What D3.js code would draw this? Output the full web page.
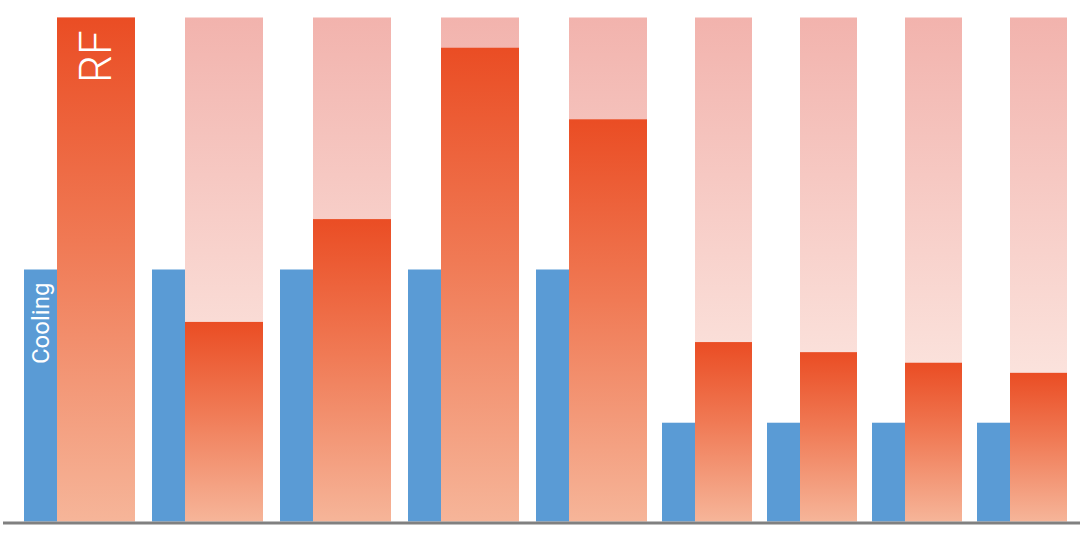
<!DOCTYPE html>
<html lang="en">
<head>
    <meta charset="UTF-8">
    <title>Cooling vs RF</title>
    <script src="https://cdn.jsdelivr.net/npm/d3@7"></script>
    <style>
        body { margin: 0; background: #fff; }
        svg { display: block; }
    </style>
</head>
<body>
    <svg width="1080" height="550"></svg>

<script>
    // groups: the first five are drawn wide, the last four narrow
    var wideGroups = ["A", "B", "C", "D", "E"];
    var narrowGroups = ["F", "G", "H", "I"];
    var groups = wideGroups.concat(narrowGroups);

    var cooling = [50, 50, 50, 50, 50, 19.6, 19.6, 19.6, 19.6];
    var rf = [100, 39.6, 60, 94.0, 79.8, 35.6, 33.6, 31.5, 29.5];
    var rfMax = 100;

    var width = 1080;
    var height = 550;
    var svg = d3.select("svg")
        .attr("width", width)
        .attr("height", height);

    var y = d3.scaleLinear()
        .domain([0, rfMax])
        .range([521.5, 17.5]);

    // two band scales, one per block of groups
    var xWide = d3.scaleBand()
        .domain(wideGroups)
        .range([24, 647])
        .paddingInner(17 / 128)
        .paddingOuter(0);

    var xNarrow = d3.scaleBand()
        .domain(narrowGroups)
        .range([662, 1067])
        .paddingInner(15 / 105)
        .paddingOuter(0);

    var blueWidth = 33;

    function groupX(g) {
        return wideGroups.indexOf(g) >= 0 ? xWide(g) : xNarrow(g);
    }
    function groupW(g) {
        return wideGroups.indexOf(g) >= 0 ? xWide.bandwidth() : xNarrow.bandwidth();
    }

    var rows = groups.map(function(g, i) {
        return { name: g, cooling: cooling[i], rf: rf[i] };
    });

    // gradients
    var defs = svg.append("defs");
    var redGrad = defs.append("linearGradient")
        .attr("id", "redGrad")
        .attr("x1", 0).attr("y1", 0).attr("x2", 0).attr("y2", 1);
    redGrad.append("stop").attr("offset", "0%").attr("stop-color", "#ea4d24");
    redGrad.append("stop").attr("offset", "45%").attr("stop-color", "#f07a55");
    redGrad.append("stop").attr("offset", "100%").attr("stop-color", "#f6b599");

    var paleGrad = defs.append("linearGradient")
        .attr("id", "paleGrad")
        .attr("x1", 0).attr("y1", 0).attr("x2", 0).attr("y2", 1);
    paleGrad.append("stop").attr("offset", "0%").attr("stop-color", "#f2b3ad");
    paleGrad.append("stop").attr("offset", "70%").attr("stop-color", "#fbe2dc");
    paleGrad.append("stop").attr("offset", "100%").attr("stop-color", "#fdf0ec");

    var bars = svg.append("g");

    // pale background (full scale) behind each RF bar
    bars.selectAll("rect.pale")
        .data(rows)
        .enter()
        .append("rect")
        .attr("class", "pale")
        .attr("x", function(d) { return groupX(d.name) + blueWidth; })
        .attr("width", function(d) { return groupW(d.name) - blueWidth; })
        .attr("y", y(rfMax))
        .attr("height", y(0) - y(rfMax))
        .attr("fill", "url(#paleGrad)");

    // RF bars
    bars.selectAll("rect.rf")
        .data(rows)
        .enter()
        .append("rect")
        .attr("class", "rf")
        .attr("x", function(d) { return groupX(d.name) + blueWidth; })
        .attr("width", function(d) { return groupW(d.name) - blueWidth; })
        .attr("y", function(d) { return y(d.rf); })
        .attr("height", function(d) { return y(0) - y(d.rf); })
        .attr("fill", "url(#redGrad)");

    // cooling bars
    bars.selectAll("rect.cool")
        .data(rows)
        .enter()
        .append("rect")
        .attr("class", "cool")
        .attr("x", function(d) { return groupX(d.name); })
        .attr("width", blueWidth)
        .attr("y", function(d) { return y(d.cooling); })
        .attr("height", function(d) { return y(0) - y(d.cooling); })
        .attr("fill", "#5a9bd5");

    // baseline
    svg.append("line")
        .attr("x1", 3)
        .attr("x2", width)
        .attr("y1", 523)
        .attr("y2", 523)
        .attr("stroke", "#808080")
        .attr("stroke-width", 3);

    // labels inside the first group
    var first = rows[0];
    var rfCx = groupX(first.name) + blueWidth + (groupW(first.name) - blueWidth) / 2;
    svg.append("text")
        .attr("transform", "translate(" + rfCx + "," + 83 + ") rotate(-90)")
        .attr("dominant-baseline", "central")
        .attr("text-anchor", "start")
        .style("font-family", "Roboto, 'Liberation Sans', sans-serif")
        .style("font-weight", 300)
        .style("font-size", "44px")
        .style("fill", "#fff")
        .text("RF");

    var coolCx = groupX(first.name) + blueWidth / 2;
    svg.append("text")
        .attr("transform", "translate(" + coolCx + "," + 364 + ") rotate(-90)")
        .attr("dominant-baseline", "central")
        .attr("text-anchor", "start")
        .style("font-family", "Roboto, 'Liberation Sans', sans-serif")
        .style("font-weight", 400)
        .style("font-size", "24px")
        .style("fill", "#fff")
        .text("Cooling");
</script>
</body>
</html>
